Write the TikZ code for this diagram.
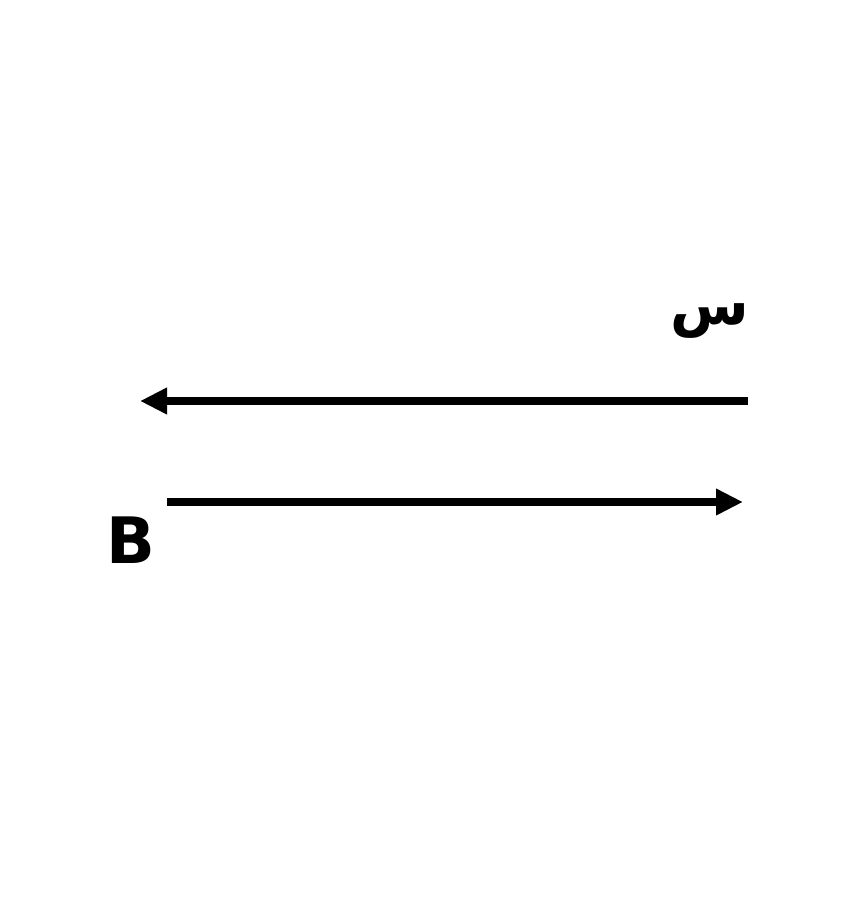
\documentclass[tikz,border=0pt]{standalone}
\usepackage{fontspec}
\setmainfont{DejaVu Sans}
\newfontfamily\arabicfont[Script=Arabic]{DejaVu Sans}
\TeXXeTstate=1
\usetikzlibrary{arrows.meta}
\tikzset{
  arr/.style={line width=8pt,-{Triangle[length=27pt,width=25pt]}},
  lbl/.style={inner sep=0pt,text=black}
}
\begin{document}
\begin{tikzpicture}[x=1pt,y=-1pt]
\useasboundingbox (0,0) rectangle (850,900);
\coordinate (a1) at (748,401);
\coordinate (a2) at (140,401);
\coordinate (b1) at (167,502);
\coordinate (b2) at (743,502);
\draw[arr] (a1) -- (a2);
\draw[arr] (b1) -- (b2);
\node[lbl,anchor=north east] (seen) at (749,303) {\fontsize{57}{70}\selectfont\arabicfont\bfseries\beginR س\endR};
\node[lbl,anchor=base west] (B) at (106,563) {\fontsize{64}{70}\selectfont\bfseries B};
\end{tikzpicture}
\end{document}
